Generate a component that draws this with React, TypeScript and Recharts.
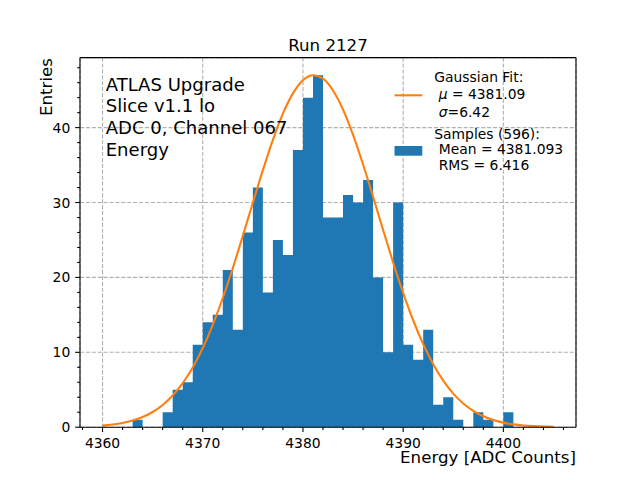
import React from 'react';
import { ComposedChart, Area, Line, XAxis, YAxis, CartesianGrid } from 'recharts';

// Histogram bins (left edges, width 1 ADC count) and their entries
const binStarts = [
  4363, 4364, 4365, 4366, 4367, 4368, 4369, 4370, 4371, 4372, 4373, 4374, 4375,
  4376, 4377, 4378, 4379, 4380, 4381, 4382, 4383, 4384, 4385, 4386, 4387, 4388,
  4389, 4390, 4391, 4392, 4393, 4394, 4395, 4396, 4397, 4398, 4399, 4400,
];
const binCounts = [
  1, 0, 0, 2, 5, 6, 11, 14, 15, 21, 13, 26, 32,
  18, 25, 23, 37, 44, 47, 28, 28, 31, 30, 33, 20, 10,
  30, 11, 9, 13, 3, 4, 1, 0, 2, 1, 0, 2,
];

// Gaussian fit curve
const fitX = [
  4360, 4361, 4362, 4363, 4364, 4365, 4366, 4367, 4368, 4369, 4370, 4371, 4372,
  4373, 4374, 4375, 4376, 4377, 4378, 4379, 4380, 4381, 4382, 4383, 4384, 4385,
  4386, 4387, 4388, 4389, 4390, 4391, 4392, 4393, 4394, 4395, 4396, 4397, 4398,
  4399, 4400, 4401, 4402, 4403, 4404, 4405,
];
const fitY = [
  0.21, 0.35, 0.56, 0.89, 1.36, 2.03, 2.97, 4.23, 5.88, 7.98, 10.57, 13.67, 17.25,
  21.25, 25.54, 29.97, 34.32, 38.37, 41.86, 44.57, 46.33, 47.0, 46.53, 44.96, 42.41, 39.04,
  35.08, 30.77, 26.33, 22.0, 17.94, 14.28, 11.09, 8.41, 6.22, 4.49, 3.17, 2.18, 1.46,
  0.96, 0.61, 0.38, 0.23, 0.14, 0.08, 0.05,
];

const xMajorTicks = [4360, 4370, 4380, 4390, 4400];
const xMinorTicks = [
  4358, 4360, 4362, 4364, 4366, 4368, 4370, 4372, 4374, 4376, 4378, 4380, 4382,
  4384, 4386, 4388, 4390, 4392, 4394, 4396, 4398, 4400, 4402, 4404, 4406,
];
const yMajorTicks = [0, 10, 20, 30, 40];
const yMinorTicks = [
  0, 2, 4, 6, 8, 10, 12, 14, 16, 18, 20, 22, 24, 26, 28, 30, 32, 34, 36, 38, 40,
  42, 44, 46, 48,
];

const xDomain = [4357.75, 4407.25];
const yDomain = [0, 49.35];

const titleText = 'Run 2127';
const xLabel = 'Energy [ADC Counts]';
const yLabel = 'Entries';
const infoLines = ['ATLAS Upgrade', 'Slice v1.1 lo', 'ADC 0, Channel 067', 'Energy'];
const fitMu = '4381.09';
const fitSigma = '6.42';
const nSamples = 596;
const sampleMean = '4381.093';
const sampleRms = '6.416';

const data = fitX.map((x, i) => {
  const k = binStarts.indexOf(x);
  return { x, hist: k >= 0 ? binCounts[k] : 0, fit: fitY[i] };
});

const FONT = 'DejaVu Sans, sans-serif';
const BLUE = '#1f77b4';
const ORANGE = '#ff7f0e';
const MAJOR_LEN = 4.86;
const MINOR_LEN = 2.78;
const PAD = 4.86;

const XTick = (props: any) => {
  const { x, y, payload } = props;
  const v = payload.value;
  const major = xMajorTicks.includes(v);
  const len = major ? MAJOR_LEN : MINOR_LEN;
  return (
    <g>
      <line x1={x} x2={x} y1={y} y2={y + len} stroke="#000" strokeWidth={1.1} />
      {major && (
        <text x={x} y={y + 21} textAnchor="middle" fontFamily={FONT} fontSize={13.89} fill="#000">
          {v}
        </text>
      )}
    </g>
  );
};

const YTick = (props: any) => {
  const { x, y, payload } = props;
  const v = payload.value;
  const major = yMajorTicks.includes(v);
  const len = major ? MAJOR_LEN : MINOR_LEN;
  return (
    <g>
      <line x1={x - len} x2={x} y1={y} y2={y} stroke="#000" strokeWidth={1.1} />
      {major && (
        <text
          x={x - MAJOR_LEN - PAD}
          y={y}
          dy="0.36em"
          textAnchor="end"
          fontFamily={FONT}
          fontSize={13.89}
          fill="#000"
        >
          {v}
        </text>
      )}
    </g>
  );
};

export default function App() {
  const legendX = 434.3;
  const indent = 4.4;
  return (
    <div style={{ position: 'absolute', left: 0, top: 0, width: 640, height: 480, background: '#fff' }}>
      <ComposedChart
        width={640}
        height={480}
        data={data}
        margin={{ top: 56.6, right: 63, bottom: 51.8, left: 79 }}
      >
        <XAxis xAxisId="grid" dataKey="x" type="number" domain={xDomain} allowDataOverflow ticks={xMajorTicks} hide />
        <YAxis yAxisId="grid" type="number" domain={yDomain} allowDataOverflow ticks={yMajorTicks} hide />
        <CartesianGrid
          xAxisId="grid"
          yAxisId="grid"
          stroke="#b0b0b0"
          strokeWidth={1.1}
          strokeDasharray="4.1 1.8"
        />
        <XAxis
          dataKey="x"
          type="number"
          domain={xDomain}
          allowDataOverflow
          ticks={xMinorTicks}
          interval={0}
          height={1}
          tickSize={0}
          tickMargin={0}
          tickLine={false}
          tick={<XTick />}
          axisLine={{ stroke: '#000', strokeWidth: 1.1 }}
        />
        <YAxis
          type="number"
          domain={yDomain}
          allowDataOverflow
          ticks={yMinorTicks}
          interval={0}
          width={1}
          tickSize={0}
          tickMargin={0}
          tickLine={false}
          tick={<YTick />}
          axisLine={{ stroke: '#000', strokeWidth: 1.1 }}
        />
        <XAxis
          xAxisId="top"
          orientation="top"
          type="number"
          domain={xDomain}
          allowDataOverflow
          ticks={[]}
          height={1}
          tick={false}
          tickLine={false}
          axisLine={{ stroke: '#000', strokeWidth: 1.1 }}
        />
        <YAxis
          yAxisId="right"
          orientation="right"
          type="number"
          domain={yDomain}
          allowDataOverflow
          ticks={[]}
          width={1}
          tick={false}
          tickLine={false}
          axisLine={{ stroke: '#000', strokeWidth: 1.1 }}
        />
        <Area
          dataKey="hist"
          type="stepAfter"
          fill={BLUE}
          fillOpacity={1}
          stroke="none"
          isAnimationActive={false}
          dot={false}
          activeDot={false}
        />
        <Line
          dataKey="fit"
          type="monotone"
          stroke={ORANGE}
          strokeWidth={2.08}
          dot={false}
          activeDot={false}
          isAnimationActive={false}
        />
      </ComposedChart>
      <svg
        width={640}
        height={480}
        style={{ position: 'absolute', left: 0, top: 0, pointerEvents: 'none' }}
      >
        <text x={328} y={50.7} textAnchor="middle" fontFamily={FONT} fontSize={16.67} fill="#000">
          {titleText}
        </text>
        <text x={576} y={462.5} textAnchor="end" fontFamily={FONT} fontSize={16.67} fill="#000">
          {xLabel}
        </text>
        <text
          transform="translate(51.5, 58) rotate(-90)"
          textAnchor="end"
          fontFamily={FONT}
          fontSize={16.67}
          fill="#000"
        >
          {yLabel}
        </text>
        {infoLines.map((t, i) => (
          <text key={t} x={105.7} y={90.7 + i * 21.67} fontFamily={FONT} fontSize={18.06} fill="#000">
            {t}
          </text>
        ))}
        <line x1={394.5} x2={422.3} y1={95.3} y2={95.3} stroke={ORANGE} strokeWidth={2.08} />
        <text x={legendX} y={82} fontFamily={FONT} fontSize={13.89} fill="#000">Gaussian Fit:</text>
        <text x={legendX + indent} y={99.3} fontFamily={FONT} fontSize={13.89} fill="#000">
          <tspan fontStyle="italic">μ</tspan> = {fitMu}
        </text>
        <text x={legendX + indent} y={117} fontFamily={FONT} fontSize={13.89} fill="#000">
          <tspan fontStyle="italic">σ</tspan>={fitSigma}
        </text>
        <rect x={394.5} y={146} width={27.8} height={9.7} fill={BLUE} />
        <text x={legendX} y={139.3} fontFamily={FONT} fontSize={13.89} fill="#000">
          {`Samples (${nSamples}):`}
        </text>
        <text x={legendX + indent} y={153.9} fontFamily={FONT} fontSize={13.89} fill="#000">
          {`Mean = ${sampleMean}`}
        </text>
        <text x={legendX + indent} y={169.9} fontFamily={FONT} fontSize={13.89} fill="#000">
          {`RMS = ${sampleRms}`}
        </text>
      </svg>
    </div>
  );
}
